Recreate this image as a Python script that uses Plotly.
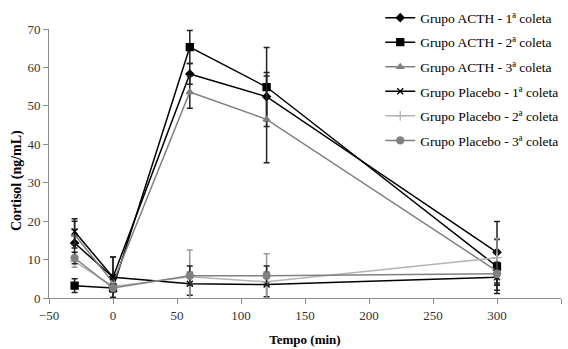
import plotly.graph_objects as go

tempo = [-30, 0, 60, 120, 300]

names = ["Grupo ACTH - 1ª coleta", "Grupo ACTH - 2ª coleta", "Grupo ACTH - 3ª coleta",
         "Grupo Placebo - 1ª coleta", "Grupo Placebo - 2ª coleta", "Grupo Placebo - 3ª coleta"]

acth1 = [14.3, 5.4, 58.3, 52.4, 11.9]
acth1_err = [3.5, 5.3, 2.7, 6.3, 8.0]
acth2 = [3.2, 2.6, 65.3, 54.9, 8.2]
acth2_err = [1.8, 1.0, 4.3, 10.3, 7.0]
acth3 = [16.5, 4.0, 53.6, 46.5, 7.0]
acth3_err = [3.5, 1.5, 4.2, 11.3, 5.0]
plac1 = [17.3, 5.4, 3.7, 3.5, 5.4]
plac1_err = [3.3, 5.3, 3.0, 3.2, 2.0]
plac2 = [9.5, 3.0, 5.5, 4.2, 10.5]
plac2_err = [1.5, 1.0, 7.0, 7.3, 5.0]
plac3 = [10.4, 2.6, 5.8, 5.8, 6.3]
plac3_err = [1.5, 1.0, 2.5, 2.5, 3.0]

series = [acth1, acth2, acth3, plac1, plac2, plac3]
errors = [acth1_err, acth2_err, acth3_err, plac1_err, plac2_err, plac3_err]
colors = ["#000000", "#000000", "#808080", "#000000", "#b4b4b4", "#808080"]
symbols = ["diamond", "square", "triangle-up", "x-thin", "cross-thin", "circle"]
sizes = [6, 7, 6, 6, 7, 7]

SERIF = "Liberation Serif, Times New Roman, serif"

fig = go.Figure()
for i in range(6):
    fig.add_trace(go.Scatter(
        x=tempo, y=series[i], name=names[i], mode="lines+markers",
        legendgroup=str(i),
        line=dict(color=colors[i], width=1.5),
        marker=dict(symbol=symbols[i], size=sizes[i], color=colors[i],
                    line=dict(color=colors[i], width=1.3)),
        error_y=dict(type="data", array=errors[i], visible=True,
                     color="#222222" if colors[i] != "#b4b4b4" else "#999999",
                     thickness=1.5, width=3),
    ))

fig.add_annotation(text="<b>Cortisol (ng/mL)</b>", xref="paper", yref="paper",
                   x=-32 / 512, y=(298 - 181) / 269, textangle=-90, showarrow=False,
                   xanchor="center", yanchor="middle",
                   font=dict(family=SERIF, size=14, color="#000000"))

fig.update_layout(
    width=568, height=349,
    margin=dict(l=49, r=7, t=29, b=51, autoexpand=False),
    paper_bgcolor="white", plot_bgcolor="white",
    font=dict(family=SERIF, size=13, color="#333333"),
    legend=dict(x=0.647, y=1.099, xanchor="left", yanchor="top",
                font=dict(family=SERIF, size=13.5, color="#000000"),
                bgcolor="rgba(255,255,255,0)", tracegroupgap=4, itemwidth=30),
    xaxis=dict(range=[-50, 350], tickvals=[-50, 0, 50, 100, 150, 200, 250, 300, 350],
               showgrid=False, zeroline=False, showline=True, linecolor="#8c8c8c",
               linewidth=1, ticks="outside", ticklen=5, tickcolor="#8c8c8c",
               automargin=False, tickfont=dict(family=SERIF, size=13),
               title=dict(text="<b>Tempo (min)</b>", font=dict(family=SERIF, size=13, color="#000000"), standoff=13)),
    yaxis=dict(range=[0, 70], tickvals=[0, 10, 20, 30, 40, 50, 60, 70],
               showgrid=False, zeroline=False, showline=True, linecolor="#8c8c8c",
               linewidth=1, ticks="outside", ticklen=5, tickcolor="#8c8c8c",
               automargin=False, tickfont=dict(family=SERIF, size=13)),
)

fig.write_html("out.html", config={"displayModeBar": False},
               post_script="document.body.style.margin='0';document.body.style.padding='0';")
